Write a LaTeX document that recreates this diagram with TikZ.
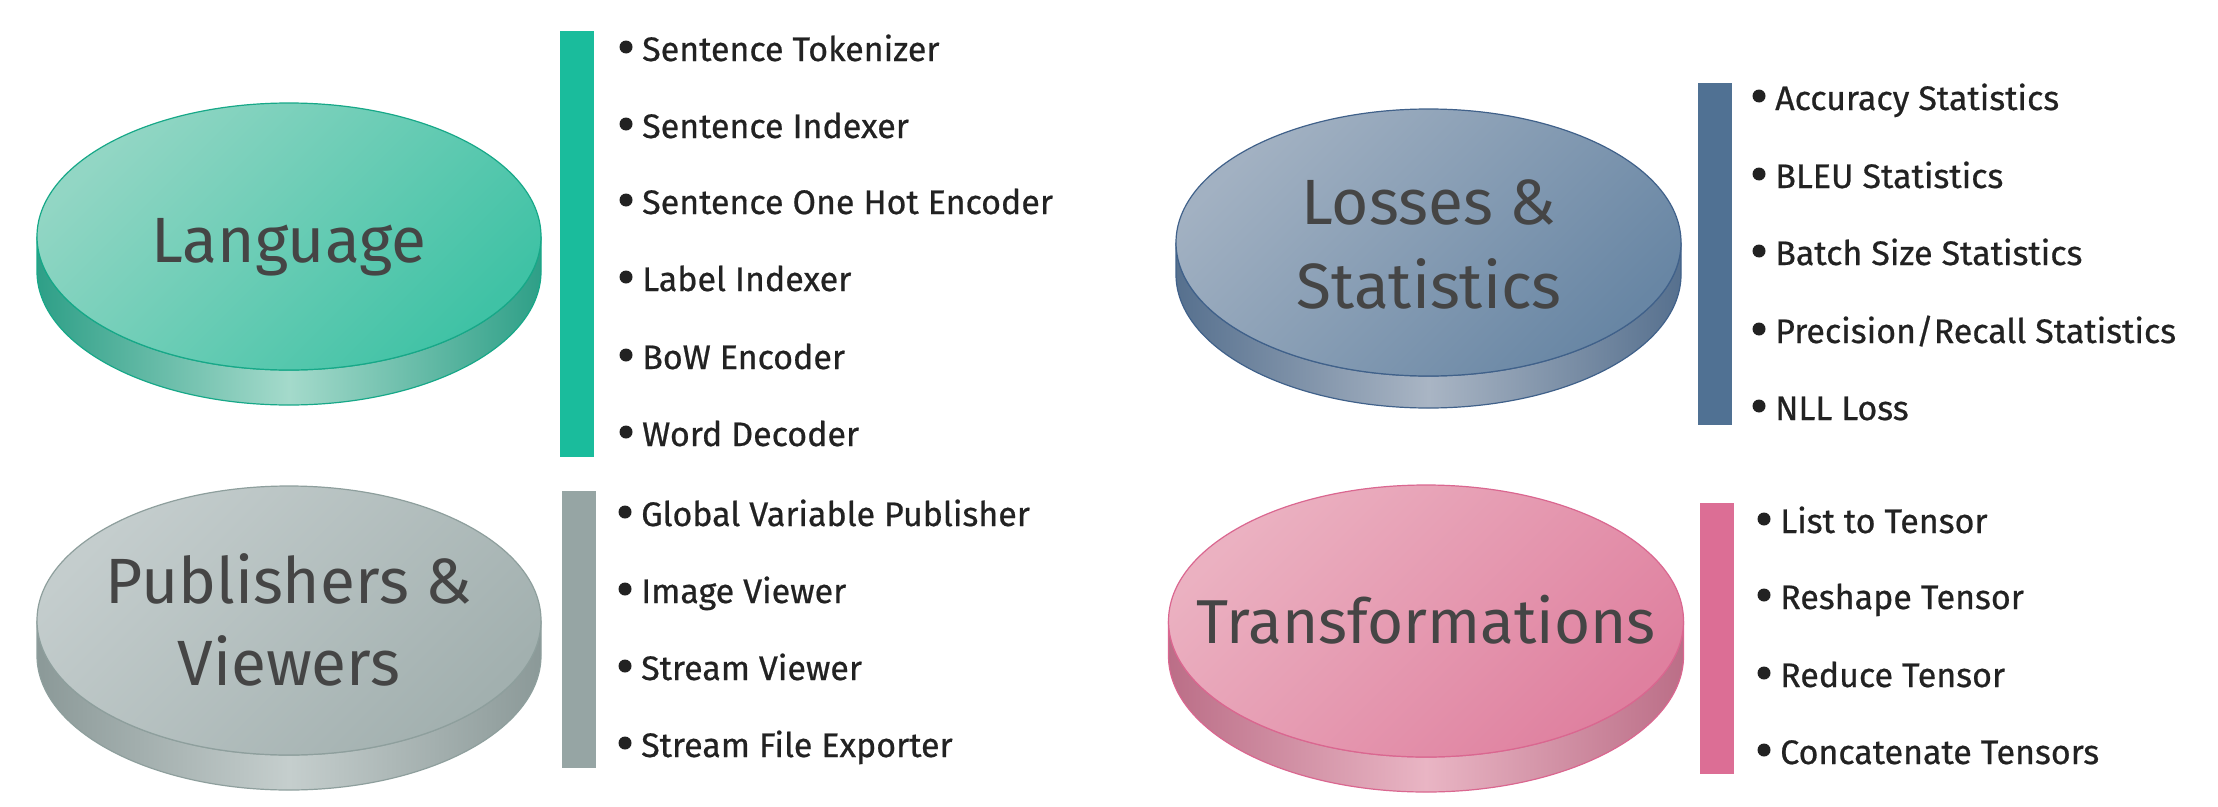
\documentclass[tikz,border=0pt]{standalone}
\usepackage{fontspec}
\setmainfont{Fira Sans}
\newfontfamily\itemfont{Fira Sans}[FakeBold=0.6]
\usetikzlibrary{shapes.geometric}
\definecolor{langTopA}{HTML}{92D6C4}
\definecolor{langTopB}{HTML}{3FC2A5}
\definecolor{langDark}{HTML}{2E9F87}
\definecolor{langLight}{HTML}{A4DACB}
\definecolor{langLine}{HTML}{17A888}
\definecolor{langBar}{HTML}{1ABC9C}
\definecolor{lossTopA}{HTML}{A2B1C2}
\definecolor{lossTopB}{HTML}{6886A4}
\definecolor{lossDark}{HTML}{56708E}
\definecolor{lossLight}{HTML}{A9B5C4}
\definecolor{lossLine}{HTML}{40618A}
\definecolor{lossBar}{HTML}{507193}
\definecolor{pubTopA}{HTML}{C4CDCD}
\definecolor{pubTopB}{HTML}{A2B0AF}
\definecolor{pubDark}{HTML}{8B9998}
\definecolor{pubLight}{HTML}{C5CECD}
\definecolor{pubLine}{HTML}{8E9F9D}
\definecolor{pubBar}{HTML}{96A5A4}
\definecolor{traTopA}{HTML}{EBB1C1}
\definecolor{traTopB}{HTML}{DF809F}
\definecolor{traDark}{HTML}{BB6E87}
\definecolor{traLight}{HTML}{E9B5C4}
\definecolor{traLine}{HTML}{DA6790}
\definecolor{traBar}{HTML}{DC6E95}
\definecolor{labelText}{HTML}{454545}
\definecolor{itemText}{HTML}{222222}
\newcommand{\discshape}[6]{%
  \shade[left color=#6Dark, right color=#6Dark, middle color=#6Light, draw=#6Line, line width=1.2pt]
    (#1-#3,#2) -- (#1-#3,#2+#5)
    arc[start angle=180, end angle=0, x radius=#3, y radius=#4]
    -- (#1+#3,#2)
    arc[start angle=0, end angle=180, x radius=#3, y radius=#4] -- cycle;
  \shade[top color=#6TopA, bottom color=#6TopB, shading angle=45, draw=#6Line, line width=1.2pt]
    (#1,#2) ellipse[x radius=#3, y radius=#4];
}
\tikzset{
  disclabel/.style={anchor=base, text=labelText, inner sep=0pt, font=\fontsize{64}{70}\selectfont},
  item/.style={anchor=base west, text=itemText, inner sep=0pt, font=\itemfont\fontsize{34}{40}\selectfont},
}
\newcommand{\bulletitem}[4]{%
  \node[item] (#1) at (#2,#3) {#4};
  \fill[itemText] (#1.base west) ++(-16,-14) circle[radius=6.5];
}
\begin{document}
\begin{tikzpicture}[x=1pt,y=-1pt]
\useasboundingbox (0,0) rectangle (2218,806);
\fill[white] (0,0) rectangle (2218,806);

% discs
\discshape{289}{236.5}{252}{133.5}{35}{lang}
\discshape{289}{620.5}{252}{134.5}{35}{pub}
\discshape{1428.5}{242.5}{252.5}{133.5}{32}{loss}
\discshape{1426}{621}{257.5}{136}{35}{tra}

% labels
\node[disclabel] (lang) at (289,262) {Language};
\node[disclabel] (loss1) at (1429,224) {Losses \&};
\node[disclabel] (loss2) at (1429,308) {Statistics};
\node[disclabel] (pub1) at (289,603) {Publishers \&};
\node[disclabel] (pub2) at (289,685) {Viewers};
\node[disclabel, font=\fontsize{62}{68}\selectfont] (tra) at (1426,643) {Transformations};

% bars
\fill[langBar] (560,31) rectangle (594,457);
\fill[lossBar] (1698,83) rectangle (1732,425);
\fill[pubBar] (562,491) rectangle (596,768);
\fill[traBar] (1700,503) rectangle (1734,774);

% Language items
\bulletitem{l1}{642}{61}{Sentence Tokenizer}
\bulletitem{l2}{642}{138}{Sentence Indexer}
\bulletitem{l3}{642}{214}{Sentence One Hot Encoder}
\bulletitem{l4}{642}{291}{Label Indexer}
\bulletitem{l5}{642}{369}{BoW Encoder}
\bulletitem{l6}{642}{446}{Word Decoder}

% Losses items
\bulletitem{s1}{1775}{110}{Accuracy Statistics}
\bulletitem{s2}{1775}{188}{BLEU Statistics}
\bulletitem{s3}{1775}{265}{Batch Size Statistics}
\bulletitem{s4}{1775}{343}{Precision/Recall Statistics}
\bulletitem{s5}{1775}{420}{NLL Loss}

% Publishers items
\bulletitem{p1}{641}{526}{Global Variable Publisher}
\bulletitem{p2}{641}{603}{Image Viewer}
\bulletitem{p3}{641}{680}{Stream Viewer}
\bulletitem{p4}{641}{757}{Stream File Exporter}

% Transformations items
\bulletitem{t1}{1780}{533}{List to Tensor}
\bulletitem{t2}{1780}{609}{Reshape Tensor}
\bulletitem{t3}{1780}{687}{Reduce Tensor}
\bulletitem{t4}{1780}{764}{Concatenate Tensors}
\end{tikzpicture}
\end{document}
